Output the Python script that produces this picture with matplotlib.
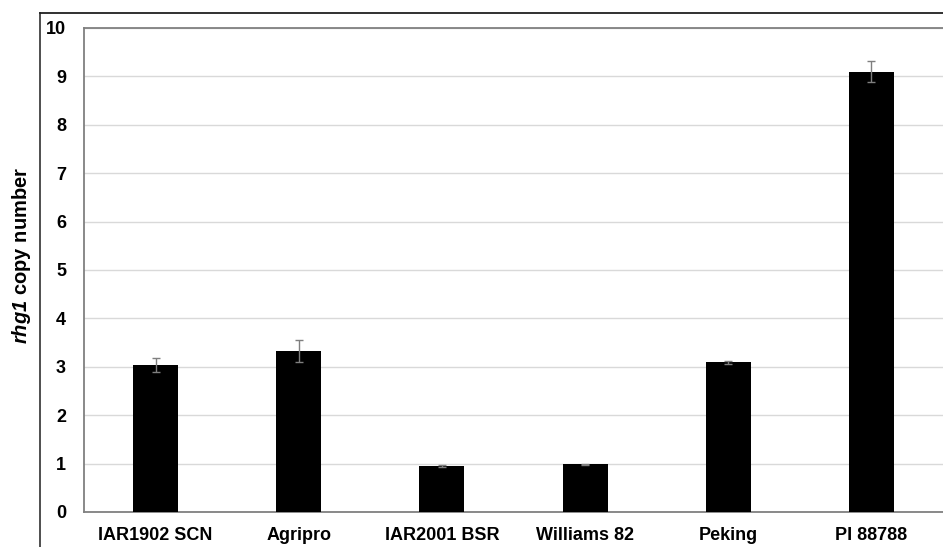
import numpy as np
import matplotlib.pyplot as plt
from matplotlib.lines import Line2D

plt.rcParams['font.family'] = ['Liberation Sans', 'DejaVu Sans']
plt.rcParams['mathtext.fontset'] = 'custom'
plt.rcParams['mathtext.it'] = 'Liberation Sans:italic:bold'
plt.rcParams['mathtext.rm'] = 'Liberation Sans:italic:bold'

cultivars = ["IAR1902 SCN", "Agripro", "IAR2001 BSR", "Williams 82", "Peking", "PI 88788"]
copy_number = [3.04, 3.33, 0.95, 0.99, 3.09, 9.10]
copy_err = [0.15, 0.23, 0.02, 0.01, 0.04, 0.21]
y_ticks = list(range(0, 11))

fig = plt.figure(figsize=(9.43, 5.47), dpi=100)
ax = fig.add_axes([84 / 943, 35 / 547, 859 / 943, 484 / 547])

x = np.arange(len(cultivars))
ax.bar(x, copy_number, width=0.315, color="black", zorder=3)
ax.errorbar(x, copy_number, yerr=copy_err, fmt="none", ecolor="#7f7f7f",
            elinewidth=1, capsize=3, capthick=1, zorder=4)

ax.set_xlim(-0.5, 5.5)
ax.set_ylim(0, 10)
ax.set_yticks(y_ticks)
ax.set_xticks(x)
ax.set_xticklabels(cultivars)
ax.tick_params(axis="both", length=0, labelsize=13)
ax.tick_params(axis="y", pad=13)
ax.tick_params(axis="x", pad=11)
for lbl in ax.get_xticklabels() + ax.get_yticklabels():
    lbl.set_fontweight("bold")

ax.grid(axis="y", color="#d9d9d9", linewidth=1, zorder=0)
for s in ["left", "top", "bottom"]:
    ax.spines[s].set_color("#808080")
    ax.spines[s].set_linewidth(1.3)
ax.spines["right"].set_visible(False)

ax.set_ylabel(r"$rhg1$ copy number", fontsize=14.5, fontweight="bold")
ax.yaxis.set_label_coords(-0.059, 0.53)

# outer frame lines (left and top)
fx = 40 / 943
fy = 1 - 12.5 / 547
fig.add_artist(Line2D([fx, fx], [0, fy], transform=fig.transFigure, color="#404040", linewidth=1.3))
fig.add_artist(Line2D([fx, 1], [fy, fy], transform=fig.transFigure, color="#202020", linewidth=1.3))

fig.savefig("out.png", dpi=100)
